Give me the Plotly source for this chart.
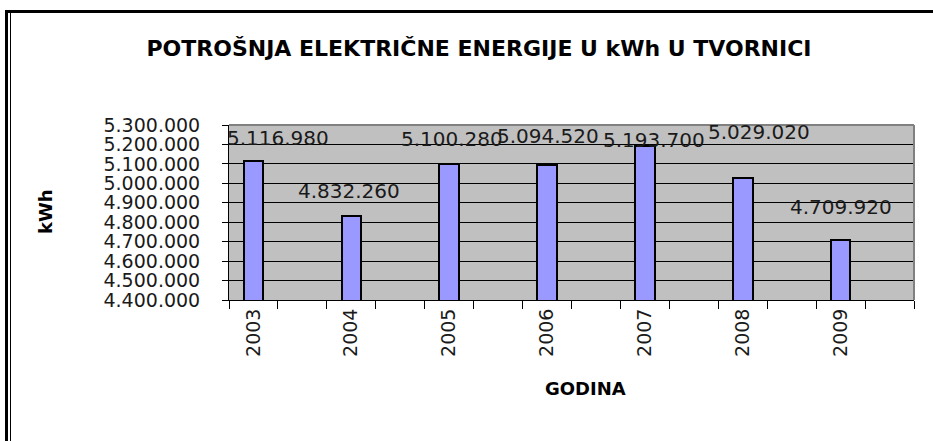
import plotly.graph_objects as go

# ---- data ----
years = ["2003", "2004", "2005", "2006", "2007", "2008", "2009"]
consumption = [5116980, 4832260, 5100280, 5094520, 5193700, 5029020, 4709920]
label_texts = ["5.116.980", "4.832.260", "5.100.280", "5.094.520", "5.193.700", "5.029.020", "4.709.920"]

title_text = "POTROŠNJA ELEKTRIČNE ENERGIJE U kWh U TVORNICI"
x_title = "GODINA"
y_title = "kWh"

# ---- layout helpers (pixel geometry of the 933x441 canvas) ----
W, H = 933, 441
L, R, T, B = 229, 19, 125, 141
PW, PH = W - L - R, H - T - B

# every category occupies two slots (second one empty), as in the original
xpos = [2 * i for i in range(len(years))]

# label offsets in pixels (dx, dy above bar top)
label_dx = [25, -2, 3, 1, 9, 16, 0]
label_dy = [23, 25, 25, 29, 6, 46, 33]

FONT = "DejaVu Sans"

fig = go.Figure()
fig.add_trace(go.Bar(
    x=xpos, y=consumption, width=0.4,
    marker=dict(color="#9999FF", line=dict(color="black", width=2)),
    showlegend=False, hoverinfo="skip",
))

for xp, v, t, dx, dy in zip(xpos, consumption, label_texts, label_dx, label_dy):
    fig.add_annotation(x=xp, y=v, text=t, showarrow=False, xanchor="center", yanchor="middle",
                       xshift=dx, yshift=dy, font=dict(family=FONT, size=20, color="#1a1a1a"))

def px_x(p):
    return (p - L) / PW

def px_y(p):
    return (H - B - p) / PH

fig.add_annotation(xref="paper", yref="paper", x=px_x(585), y=px_y(388), text=x_title,
                   showarrow=False, font=dict(family=FONT, size=18, color="black", weight="bold"),
                   xanchor="center", yanchor="middle")
fig.add_annotation(xref="paper", yref="paper", x=px_x(45), y=px_y(212), text=y_title,
                   showarrow=False, textangle=-90, font=dict(family=FONT, size=18, color="black", weight="bold"),
                   xanchor="center", yanchor="middle")

shapes = [
    # gray plot-area border on top and right
    dict(type="line", xref="paper", yref="paper", x0=0, x1=1, y0=1, y1=1, line=dict(color="#808080", width=2)),
    dict(type="line", xref="paper", yref="paper", x0=1, x1=1, y0=0, y1=1, line=dict(color="#808080", width=2)),
    # chart frame: thick top line, double left line
    dict(type="line", xref="paper", yref="paper", x0=px_x(5), x1=px_x(935), y0=px_y(11.5), y1=px_y(11.5),
         line=dict(color="black", width=3)),
    dict(type="line", xref="paper", yref="paper", x0=px_x(6.5), x1=px_x(6.5), y0=px_y(10), y1=px_y(445),
         line=dict(color="black", width=3)),
    dict(type="line", xref="paper", yref="paper", x0=px_x(10.5), x1=px_x(10.5), y0=px_y(13), y1=px_y(445),
         line=dict(color="black", width=1)),
]

fig.update_layout(
    width=W, height=H,
    margin=dict(l=L, r=R, t=T, b=B, autoexpand=False),
    paper_bgcolor="white", plot_bgcolor="#C0C0C0",
    separators=",.",
    title=dict(text=title_text, x=479 / W, xanchor="center",
               y=1 - 48 / H, yanchor="middle",
               font=dict(family=FONT, size=22, color="black", weight="bold")),
    shapes=shapes,
    bargap=0,
)
fig.update_xaxes(
    range=[-0.5, 13.5], tickvals=xpos, ticktext=years, tickangle=-90,
    ticks="", showgrid=False, zeroline=False,
    showline=True, linecolor="black", linewidth=1,
    tickfont=dict(family=FONT, size=19, color="#1a1a1a"),
    minor=dict(ticks="outside", ticklen=8, tickcolor="black", tick0=-0.5, dtick=1, showgrid=False),
    fixedrange=True,
)
fig.update_yaxes(
    range=[4400000, 5300000], dtick=100000, tick0=4400000, tickformat=",d",
    ticks="outside", ticklen=6, tickcolor="black", ticklabelstandoff=18,
    showgrid=True, gridcolor="black", gridwidth=1, zeroline=False,
    showline=True, linecolor="black", linewidth=1,
    tickfont=dict(family=FONT, size=19, color="#1a1a1a"),
    fixedrange=True,
)

fig.write_html("out.html", config={"displayModeBar": False},
               post_script="document.body.style.margin='0px';")
